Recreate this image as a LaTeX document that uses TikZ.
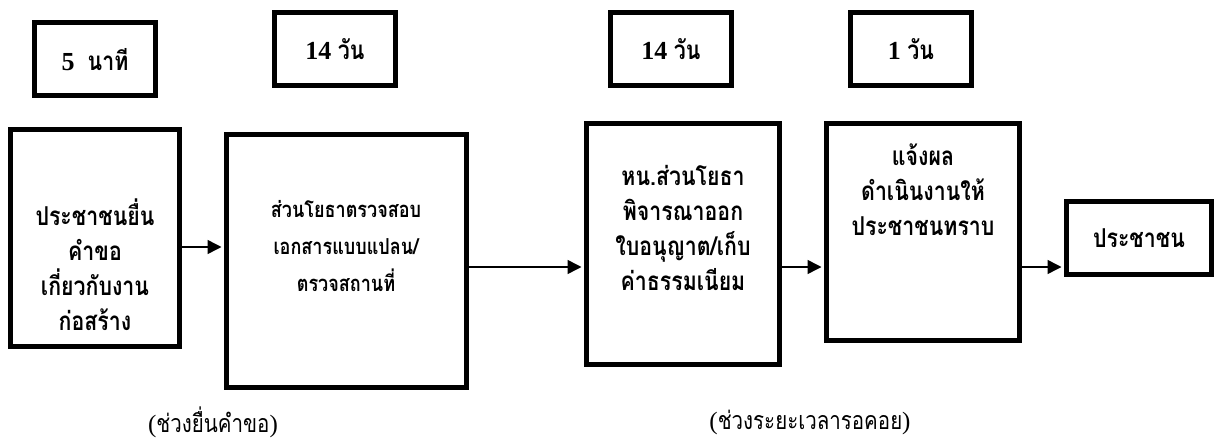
\documentclass[tikz,border=0pt]{standalone}
\usepackage{fontspec}
\setmainfont{Liberation Serif}
\newfontfamily\thaifont[Script=Thai,FakeStretch=0.82]{Loma}
\usetikzlibrary{arrows.meta}
\tikzset{>={Triangle[length=14pt,width=14pt]}}
\tikzstyle{box line}=[line width=5pt,draw=black,inner sep=0pt]
\tikzstyle{day box}=[box line,minimum width=121pt,minimum height=73pt,font=\fontsize{26}{30}\selectfont\bfseries]
\tikzstyle{step text}=[align=center,font=\thaifont\bfseries\fontsize{26}{35}\selectfont]
\tikzstyle{small step text}=[align=center,font=\thaifont\bfseries\fontsize{22}{37}\selectfont]
\tikzstyle{flow}=[line width=1.5pt,->,shorten >=2.5pt]
\tikzstyle{phase}=[font=\fontsize{25}{28}\selectfont]

\begin{document}
\begin{tikzpicture}[x=1pt,y=-1pt]
	\useasboundingbox (0,0) rectangle (1221,441);
	\coordinate (y1) at (0,247); % level of first arrow
	\coordinate (y2) at (0,267); % level of the other arrows

	% Time boxes
	\node[day box] (t1) at (95,59.5) {5\ \ {\thaifont นาที}};
	\node[day box] (t2) at (335,49) {14\ {\thaifont วัน}};
	\node[day box] (t3) at (671,49) {14\ {\thaifont วัน}};
	\node[day box] (t4) at (911,49) {1\ {\thaifont วัน}};

	% Step boxes
	\node[box line,minimum width=169pt,minimum height=217pt] (A) at (95,238) {};
	\node[box line,minimum width=240pt,minimum height=253pt] (B) at (346.5,261) {};
	\node[box line,minimum width=193pt,minimum height=241pt] (C) at (683,244) {};
	\node[box line,minimum width=193pt,minimum height=217pt] (D) at (923,232) {};
	\node[box line,minimum width=145pt,minimum height=73pt,step text] (E) at (1139,238) {ประชาชน};

	% Texts of the steps
	\node[step text] (Atxt) at (95,265) {ประชาชนยื่น\\คำขอ\\เกี่ยวกับงาน\\ก่อสร้าง};
	\node[small step text] (Btxt) at (346,246) {ส่วนโยธาตรวจสอบ\\เอกสารแบบแปลน/\\ตรวจสถานที่};
	\node[step text] (Ctxt) at (683,228) {หน.ส่วนโยธา\\พิจารณาออก\\ใบอนุญาต/เก็บ\\ค่าธรรมเนียม};
	\node[step text] (Dtxt) at (923,190) {แจ้งผล\\ดำเนินงานให้\\ประชาชนทราบ};

	% Arrows
	\draw[flow] (A.east |- y1) -- (B.west |- y1);
	\draw[flow] (B.east |- y2) -- (C.west |- y2);
	\draw[flow] (C.east |- y2) -- (D.west |- y2);
	\draw[flow] (D.east |- y2) -- (E.west |- y2);

	% Phases
	\node[phase] (p1) at (213,422) {({\thaifont ช่วงยื่นคำขอ})};
	\node[phase] (p2) at (810,422) {({\thaifont ช่วงระยะเวลารอคอย})};
\end{tikzpicture}
\end{document}
